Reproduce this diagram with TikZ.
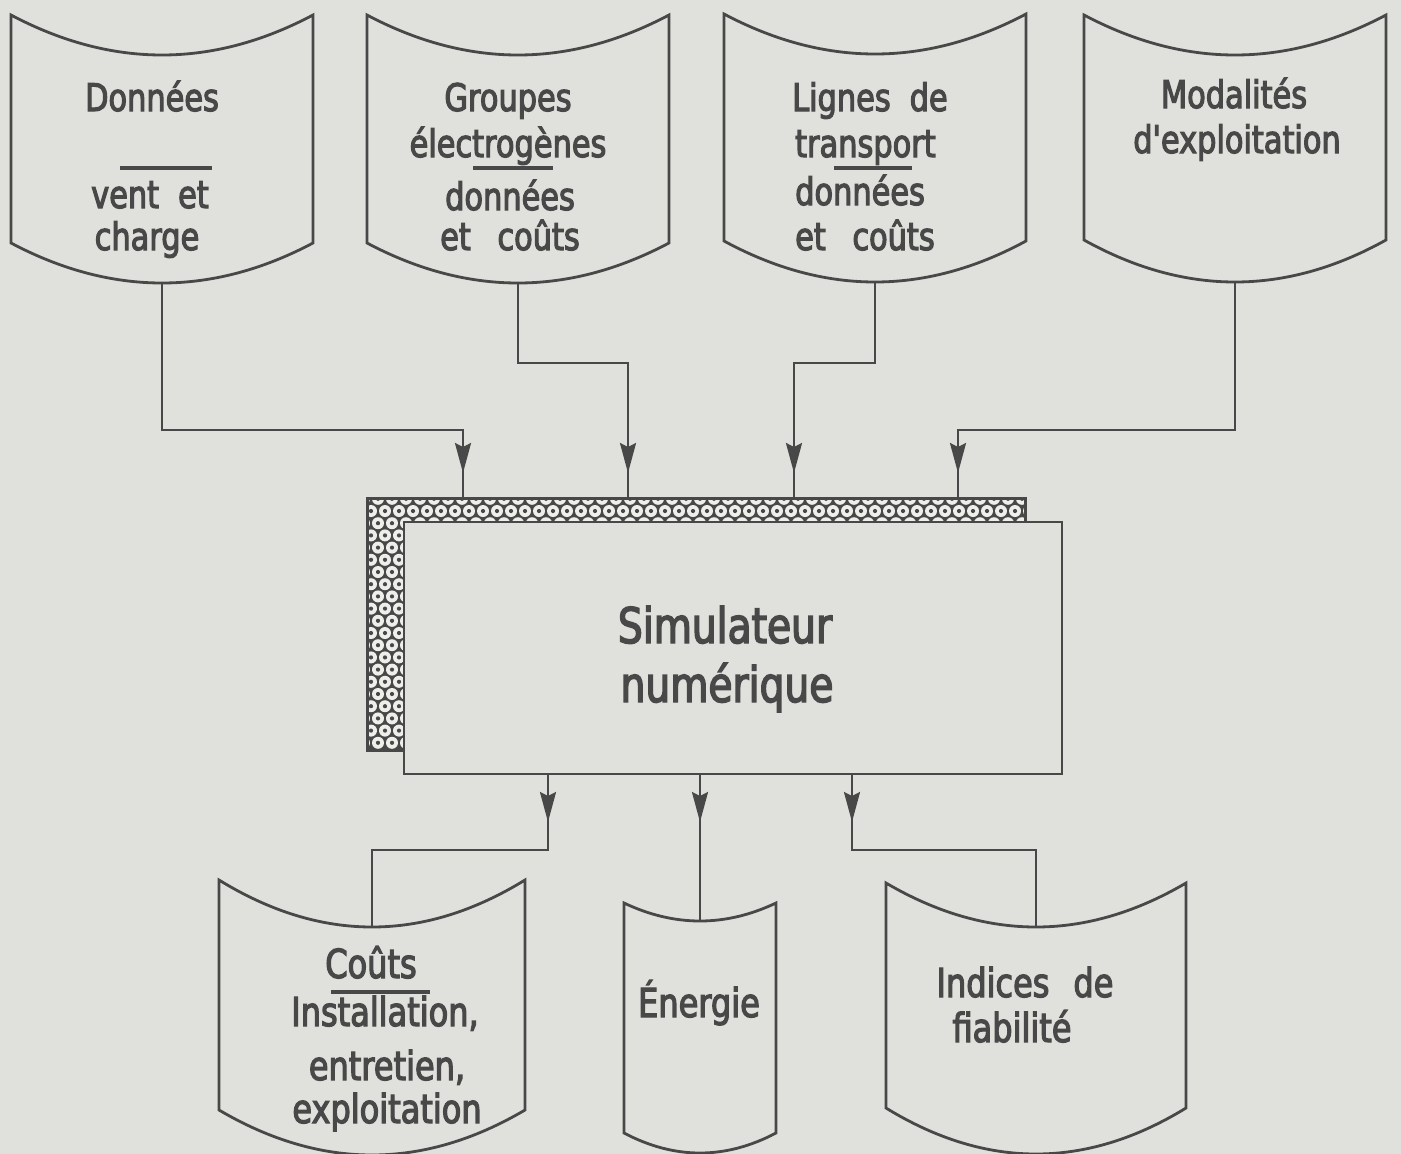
\documentclass[tikz,border=0pt]{standalone}
\usepackage{fontspec}
\setmainfont{DejaVu Sans}
\newfontfamily\boxfont[FakeStretch=0.8, FakeBold=3]{DejaVu Sans}
\newfontfamily\simfont[FakeStretch=0.8, FakeBold=3]{DejaVu Sans}
\usetikzlibrary{arrows.meta,decorations.markings}
\definecolor{paper}{RGB}{224,225,220}
\definecolor{ink}{RGB}{72,72,72}
\definecolor{hole}{RGB}{238,238,234}

% name, x-left, x-right, y-top corners, top sag, y-bottom corners, bottom sag
\newcommand{\mydocbox}[7]{%
  \pgfmathsetmacro{\dbA}{#2+(#3-#2)/3}%
  \pgfmathsetmacro{\dbB}{#2+2*(#3-#2)/3}%
  \pgfmathsetmacro{\dbC}{(#2+#3)/2}%
  \pgfmathsetmacro{\dbT}{#4+4*#5/3}%
  \pgfmathsetmacro{\dbU}{#6+4*#7/3}%
  \pgfmathsetmacro{\dbTl}{#4+#5}%
  \pgfmathsetmacro{\dbUl}{#6+#7}%
  \path[docline] (#2,#4) .. controls (\dbA,\dbT) and (\dbB,\dbT) .. (#3,#4) -- (#3,#6) .. controls (\dbB,\dbU) and (\dbA,\dbU) .. (#2,#6) -- cycle;%
  \coordinate (#1-n) at (\dbC,\dbTl);%
  \coordinate (#1-s) at (\dbC,\dbUl);%
}

\begin{document}
\begin{tikzpicture}[x=1pt,y=-1pt,
  docline/.style={draw=ink, line width=2.8pt, fill=paper, line join=miter},
  conn/.style={draw=ink, line width=2.4pt},
  intip/.style={postaction={decorate}, decoration={markings, mark=at position -25pt with {\arrow{Stealth[length=30pt,width=16pt,inset=4pt]}}}},
  outtip/.style={postaction={decorate}, decoration={markings, mark=at position 48pt with {\arrow{Stealth[length=30pt,width=16pt,inset=4pt]}}}},
  toptext/.style={anchor=base, inner sep=0pt, text=ink, font=\boxfont\fontsize{38}{44}\selectfont},
  topleft/.style={toptext, anchor=base west},
  bottext/.style={anchor=base, inner sep=0pt, text=ink, font=\boxfont\fontsize{40}{46}\selectfont},
  simtext/.style={anchor=base, inner sep=0pt, text=ink, font=\simfont\fontsize{49}{56}\selectfont},
  sep/.style={draw=ink, line width=3.2pt},
  simbox/.style={draw=ink, line width=2.8pt, fill=paper, minimum width=658pt, minimum height=252pt, inner sep=0pt},
]
\useasboundingbox (0,0) rectangle (1401,1154);
\fill[paper] (0,0) rectangle (1401,1154);
\clip (0,0) rectangle (1401,1154);

% ---------- shadow of the simulator (dotted mesh) ----------
\fill[ink] (367,498) rectangle (1025,750);
\begin{scope}
  \clip (367,498) rectangle (1025,750);
  \foreach \j in {-1,...,21}{
    \foreach \i in {0,...,48}{
      \pgfmathsetmacro{\cx}{364+14*\i+7*mod(\j+1,2)}
      \pgfmathsetmacro{\cy}{511+12.2*\j}
      \fill[hole] (\cx,\cy) circle (6);
      \fill[ink] (\cx,\cy) circle (2.1);
    }
  }
\end{scope}
\draw[ink, line width=3pt] (367,498) rectangle (1025,750);

% ---------- simulator ----------
\node[simbox] (sim) at (733,648) {};
\node[simtext] (simA) at (725,643) {Simulateur};
\node[simtext] (simB) at (727,702) {numérique};

% ---------- top boxes ----------
\mydocbox{b1}{11}{313}{15}{40}{243}{40}
\mydocbox{b2}{367}{669}{15}{40}{243}{40}
\mydocbox{b3}{724}{1026}{14}{40}{241}{41}
\mydocbox{b4}{1084}{1386}{15}{40}{240}{42}

\node[toptext] (t1a) at (152,111) {Données};
\draw[sep] (120,168) -- (212,168);
\node[toptext] (t1b) at (150,208) {vent\hspace{0.5em}et};
\node[toptext] (t1c) at (147,250) {charge};

\node[toptext] (t2a) at (508,111) {Groupes};
\node[toptext] (t2b) at (508,157) {électrogènes};
\draw[sep] (473,168) -- (553,168);
\node[toptext] (t2c) at (510,210) {données};
\node[toptext] (t2d) at (510,250) {et\hspace{0.7em}coûts};

\node[topleft] (t3a) at (792,111) {Lignes\hspace{0.5em}de};
\node[topleft] (t3b) at (795,157) {transport};
\draw[sep] (834,168) -- (912,168);
\node[topleft] (t3c) at (795,205) {données};
\node[topleft] (t3d) at (795,250) {et\hspace{0.7em}coûts};

\node[toptext] (t4a) at (1234,108) {Modalités};
\node[toptext] (t4b) at (1237,153) {d'exploitation};

% ---------- bottom boxes ----------
\mydocbox{b5}{219}{525}{880}{47}{1110}{45}
\mydocbox{b6}{624}{776}{903}{18}{1133}{20}
\mydocbox{b7}{886}{1186}{883}{44}{1108}{46}

\node[bottext] (t5a) at (371,978) {Coûts};
\draw[sep] (331,992) -- (430,992);
\node[bottext] (t5b) at (385,1026) {Installation,};
\node[bottext] (t5c) at (387,1080) {entretien,};
\node[bottext] (t5d) at (387,1123) {exploitation};

\node[bottext] (t6) at (699,1017) {Énergie};

\node[bottext] (t7a) at (1025,997) {Indices\hspace{0.6em}de};
\node[bottext] (t7b) at (1012,1042) {fiabilité};

% ---------- connectors: inputs ----------
\coordinate (k1) at (463,430);  \coordinate (in1) at (463,498);
\coordinate (k2) at (628,363);  \coordinate (in2) at (628,498);
\coordinate (k3) at (794,363);  \coordinate (in3) at (794,498);
\coordinate (k4) at (958,430);  \coordinate (in4) at (958,498);
\draw[conn,intip] (b1-s) |- (k1) -- (in1);
\draw[conn,intip] (b2-s) |- (k2) -- (in2);
\draw[conn,intip] (b3-s) |- (k3) -- (in3);
\draw[conn,intip] (b4-s) |- (k4) -- (in4);

% ---------- connectors: outputs ----------
\coordinate (out1) at (548,774); \coordinate (j1) at (548,850);
\coordinate (out2) at (700,774);
\coordinate (out3) at (852,774); \coordinate (j3) at (852,850);
\draw[conn,outtip] (out1) -- (j1) -| (b5-n);
\draw[conn,outtip] (out2) -- (b6-n);
\draw[conn,outtip] (out3) -- (j3) -| (b7-n);
\end{tikzpicture}
\end{document}
